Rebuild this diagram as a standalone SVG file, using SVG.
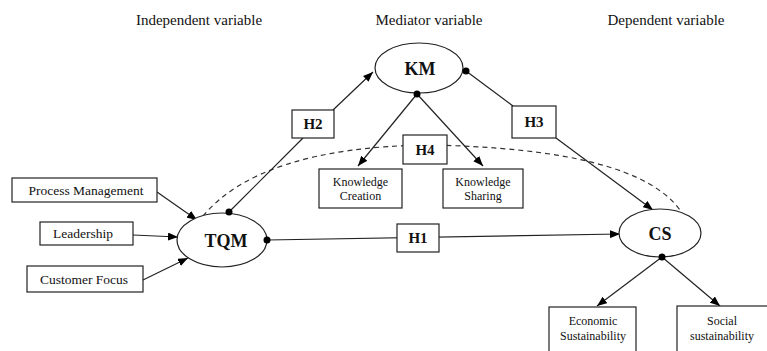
<svg xmlns="http://www.w3.org/2000/svg" width="767" height="351" viewBox="0 0 767 351">
<style>
  .bx{fill:#fff;stroke:#222;stroke-width:1.2}
  .el{fill:#fff;stroke:#222;stroke-width:1.2}
  .ln{fill:none;stroke:#222;stroke-width:1.2}
  .ds{fill:none;stroke:#333;stroke-width:1.2;stroke-dasharray:5,4}
  text{font-family:'Liberation Serif','Times New Roman',Tinos,'DejaVu Serif',serif;fill:#111;text-anchor:middle}
  .hd{font-size:15px}
  .lb{font-size:13.5px}
  .sm{font-size:12px}
  .nd{font-size:18px;font-weight:bold}
  .h{font-size:15px;font-weight:bold}
  .dot{fill:#000}
</style>
<defs>
  <marker id="arr" viewBox="0 0 10 8" refX="10" refY="4" markerWidth="10" markerHeight="8" orient="auto" markerUnits="userSpaceOnUse">
    <path d="M0,0 L10,4 L0,8 z" fill="#000"/>
  </marker>
</defs>
<rect width="767" height="351" fill="#fff"/>

<g id="headers">
  <text class="hd" x="199" y="25">Independent variable</text>
  <text class="hd" x="429" y="25">Mediator variable</text>
  <text class="hd" x="666" y="25">Dependent variable</text>
</g>

<g id="connectors">
  <path class="ds" d="M203,216 Q260,148 425,145 Q640,148 682,213"/>
  <line class="ln" x1="157" y1="192" x2="197" y2="220" marker-end="url(#arr)"/>
  <line class="ln" x1="133" y1="235" x2="178" y2="237" marker-end="url(#arr)"/>
  <line class="ln" x1="143" y1="280" x2="188" y2="258" marker-end="url(#arr)"/>
  <line class="ln" x1="229" y1="212" x2="303" y2="138"/>
  <line class="ln" x1="333" y1="110" x2="373" y2="72" marker-end="url(#arr)"/>
  <line class="ln" x1="466" y1="71" x2="513" y2="106"/>
  <line class="ln" x1="556" y1="138" x2="653" y2="210" marker-end="url(#arr)"/>
  <line class="ln" x1="417" y1="94" x2="358" y2="166" marker-end="url(#arr)"/>
  <line class="ln" x1="417" y1="94" x2="483" y2="166" marker-end="url(#arr)"/>
  <line class="ln" x1="267" y1="240" x2="620" y2="234" marker-end="url(#arr)"/>
  <line class="ln" x1="662" y1="257" x2="597" y2="306" marker-end="url(#arr)"/>
  <line class="ln" x1="662" y1="257" x2="720" y2="306" marker-end="url(#arr)"/>
</g>

<g id="process-management">
  <rect class="bx" x="12" y="178" width="145" height="24"/>
  <text class="lb" x="86" y="195">Process Management</text>
</g>
<g id="leadership">
  <rect class="bx" x="40" y="222" width="93" height="23"/>
  <text class="lb" x="83" y="238">Leadership</text>
</g>
<g id="customer-focus">
  <rect class="bx" x="27" y="266" width="116" height="26"/>
  <text class="lb" x="84" y="284">Customer Focus</text>
</g>

<g id="tqm">
  <ellipse class="el" cx="222" cy="240" rx="45" ry="27"/>
  <text class="nd" x="226" y="247">TQM</text>
  <circle class="dot" cx="229" cy="212" r="3.5"/>
  <circle class="dot" cx="267" cy="240" r="3.5"/>
</g>

<g id="km">
  <ellipse class="el" cx="419" cy="68" rx="44" ry="25"/>
  <text class="nd" x="420" y="75">KM</text>
  <circle class="dot" cx="466" cy="71" r="3.5"/>
  <circle class="dot" cx="417" cy="94" r="3.5"/>
</g>

<g id="cs">
  <ellipse class="el" cx="660" cy="233" rx="41" ry="24"/>
  <text class="nd" x="660" y="240">CS</text>
  <circle class="dot" cx="662" cy="257" r="3.5"/>
</g>

<g id="h1">
  <rect class="bx" x="397" y="224" width="42" height="28"/>
  <text class="h" x="418" y="243">H1</text>
</g>
<g id="h2">
  <rect class="bx" x="292" y="110" width="42" height="28"/>
  <text class="h" x="313" y="129">H2</text>
</g>
<g id="h3">
  <rect class="bx" x="512" y="106" width="44" height="32"/>
  <text class="h" x="534" y="127">H3</text>
</g>
<g id="h4">
  <rect class="bx" x="403" y="135" width="44" height="29"/>
  <text class="h" x="425" y="155">H4</text>
</g>

<g id="knowledge-creation">
  <rect class="bx" x="319" y="169" width="83" height="39"/>
  <text class="sm" x="360.5" y="186">Knowledge</text>
  <text class="sm" x="360.5" y="200">Creation</text>
</g>
<g id="knowledge-sharing">
  <rect class="bx" x="443" y="169" width="80" height="39"/>
  <text class="sm" x="483" y="186">Knowledge</text>
  <text class="sm" x="483" y="200">Sharing</text>
</g>

<g id="economic-sustainability">
  <rect class="bx" x="549" y="307" width="87" height="60"/>
  <text class="sm" x="593" y="325">Economic</text>
  <text class="sm" x="593" y="340">Sustainability</text>
</g>
<g id="social-sustainability">
  <rect class="bx" x="677" y="306" width="100" height="60"/>
  <text class="sm" x="722" y="325">Social</text>
  <text class="sm" x="722" y="340">sustainability</text>
</g>
</svg>
